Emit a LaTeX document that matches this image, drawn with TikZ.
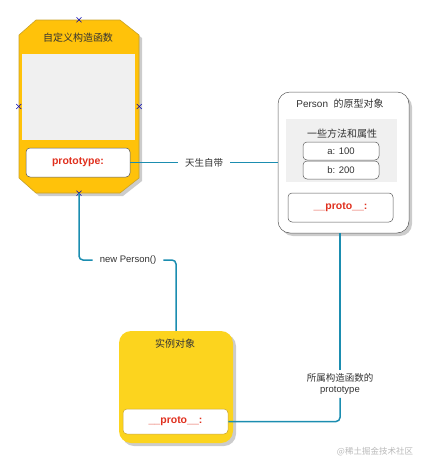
\documentclass[tikz,border=0pt]{standalone}
\usepackage{fontspec}
\setmainfont{Liberation Sans}
\newfontfamily\cjk{Noto Sans CJK SC}
\usetikzlibrary{positioning}

\definecolor{amarillo}{HTML}{FFC20A}
\definecolor{limon}{HTML}{FCD41E}
\definecolor{borde}{HTML}{C9A227}
\definecolor{enlace}{HTML}{1B8DB0}
\definecolor{rojo}{HTML}{E0301E}
\definecolor{texto}{HTML}{333333}
\definecolor{fondo}{HTML}{F0F0F0}

\begin{document}
\begin{tikzpicture}[
    x=1pt, y=-1pt,
    % Estilos para las cajas
    caja/.style={draw=gray!70!black, fill=white, rounded corners=4pt, line width=0.5pt},
    campo/.style={caja, font=\fontsize{10.5}{12}\selectfont\bfseries, text=rojo},
    dato/.style={caja, minimum width=76pt, minimum height=18pt, font=\fontsize{9.5}{11}\selectfont, text=texto},
    titulo/.style={font=\cjk\fontsize{10}{12}\selectfont, text=texto},
    etiqueta/.style={fill=white, inner xsep=7pt, font=\cjk\fontsize{9.5}{11.5}\selectfont, text=texto, align=center},
    linea/.style={draw=enlace, line width=1.5pt, rounded corners=4pt},
    sombra/.style={fill=gray!40, draw=none},
    marca/.style={draw=blue!70!black, line width=0.6pt}
    ]

    \useasboundingbox (0,0) rectangle (427,469);

    % Constructor (caja ochavada)
    \fill[sombra] (39,23) -- (123,23) -- (142,38) -- (142,181) -- (123,196) -- (39,196) -- (22,181) -- (22,38) -- cycle;
    \filldraw[fill=amarillo, draw=borde, line width=0.6pt]
        (36,20) -- (120,20) -- (139,35) -- (139,178) -- (120,193) -- (36,193) -- (19,178) -- (19,35) -- cycle;
    \node[minimum width=120pt, minimum height=173pt, inner sep=0pt] (ctor) at (79,106.5) {};
    \node[titulo] (ctortit) at (78,38) {自定义构造函数};
    \node[fill=fondo, minimum width=113pt, minimum height=86pt, inner sep=0pt] (ctorbody) at (78.5,97) {};
    \node[campo, minimum width=104pt, minimum height=29pt] (proto) at (78,162.5) {prototype:};

    % Marcas de conexion
    \foreach \a in {north, south, east, west} {
        \draw[marca] ([shift={(-2.5,-2.5)}]ctor.\a) -- ([shift={(2.5,2.5)}]ctor.\a);
        \draw[marca] ([shift={(-2.5,2.5)}]ctor.\a) -- ([shift={(2.5,-2.5)}]ctor.\a);
    }

    % Objeto prototipo de Person
    \fill[sombra, rounded corners=12pt] (281,95) rectangle (412,236);
    \node[caja, rounded corners=12pt, minimum width=131pt, minimum height=141pt, inner sep=0pt] (person) at (343.5,162.5) {};
    \node[font=\fontsize{10}{12}\selectfont, text=texto] (persontit) at (340,104) {Person\ \ {\cjk 的原型对象}};
    \node[fill=fondo, minimum width=111pt, minimum height=63pt, inner sep=0pt] (metodos) at (341.5,150.5) {};
    \node[titulo] (metodostit) at (342,134) {一些方法和属性};
    \node[dato] (a) at (341,151) {a: 100};
    \node[dato] (b) at (341,170) {b: 200};
    \node[campo, minimum width=105pt, minimum height=29pt] (pproto) at (340.5,207.5) {\_\_proto\_\_:};

    % Objeto instancia
    \fill[sombra, rounded corners=12pt] (122,334) rectangle (236,446);
    \node[fill=limon, rounded corners=12pt, minimum width=114pt, minimum height=112pt, inner sep=0pt] (inst) at (176,387) {};
    \node[titulo] (insttit) at (175,344) {实例对象};
    \node[campo, draw=borde, minimum width=105pt, minimum height=25pt] (iproto) at (175.5,421.5) {\_\_proto\_\_:};

    % Conexiones
    \node[etiqueta] (nace) at (204,162.5) {天生自带};
    \draw[linea] (proto.east) -- (nace.west);
    \draw[linea] (nace.east) -- (person.west);

    \node[etiqueta, font=\fontsize{9.5}{11}\selectfont] (nuevo) at (128,260) {new Person()};
    \draw[linea] (ctor.south) |- (nuevo.west);
    \draw[linea] (nuevo.east) -| (inst.north);

    \node[etiqueta, inner ysep=3pt] (pertenece) at (340,384) {所属构造函数的\\{\rmfamily prototype}};
    \draw[linea] (iproto.east) -| (pertenece.south);
    \draw[linea] (pertenece.north) -- (pertenece.north |- person.south);

    % Marca de agua
    \node[font=\cjk\fontsize{8.5}{10}\selectfont, text=gray!55] (marcaagua) at (375,452) {@稀土掘金技术社区};

\end{tikzpicture}
\end{document}
